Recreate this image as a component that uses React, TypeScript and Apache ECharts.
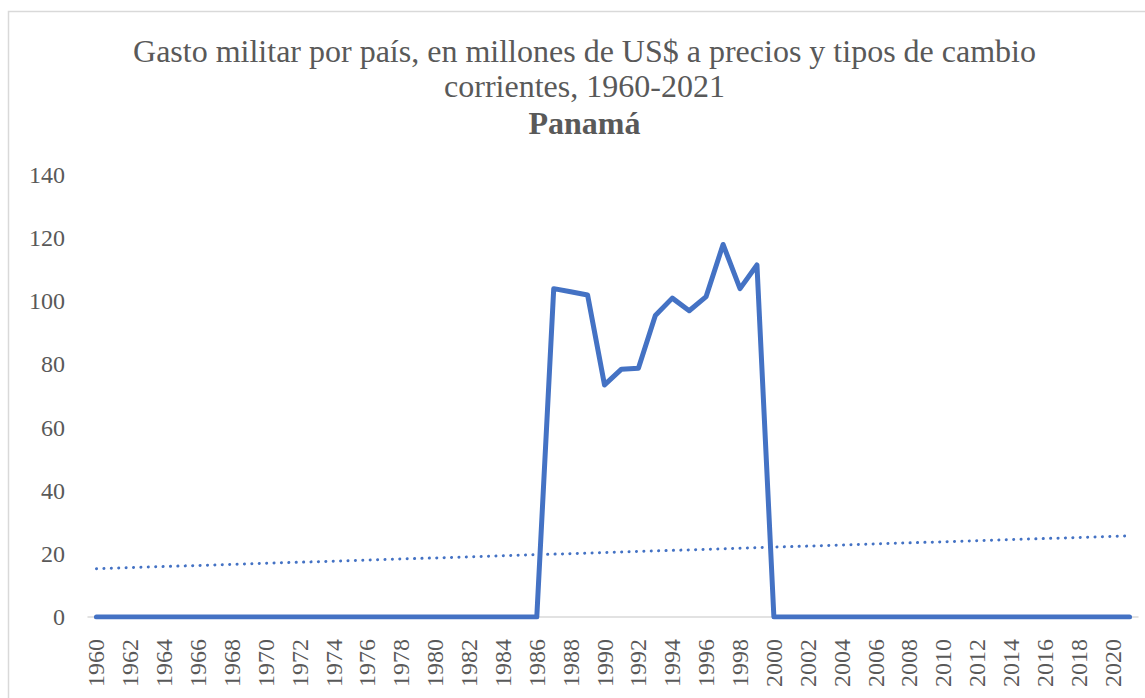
import React, { useEffect, useRef } from "react";
import * as echarts from "echarts";

const years: string[] = [
  "1960","1961","1962","1963","1964","1965","1966","1967","1968","1969",
  "1970","1971","1972","1973","1974","1975","1976","1977","1978","1979",
  "1980","1981","1982","1983","1984","1985","1986","1987","1988","1989",
  "1990","1991","1992","1993","1994","1995","1996","1997","1998","1999",
  "2000","2001","2002","2003","2004","2005","2006","2007","2008","2009",
  "2010","2011","2012","2013","2014","2015","2016","2017","2018","2019",
  "2020","2021",
];

const gasto: number[] = [
  0,0,0,0,0,0,0,0,0,0,
  0,0,0,0,0,0,0,0,0,0,
  0,0,0,0,0,0,0,104,103,102,
  73.5,78.5,78.8,95.5,101,97,101.5,118,104,111.5,
  0,0,0,0,0,0,0,0,0,0,
  0,0,0,0,0,0,0,0,0,0,
  0,0,
];

// Linear trendline end points
const trendStart = 15.3;
const trendEnd = 25.7;

const titleLines = [
  "Gasto militar por país, en millones de US$ a precios y tipos de cambio",
  "corrientes, 1960-2021",
];
const subtitle = "Panamá";

const FONT = "Liberation Serif";
const GRAY = "#595959";
const BLUE = "#4472C4";

export default function App() {
  const ref = useRef<HTMLDivElement>(null);
  useEffect(() => {
    if (!ref.current) return;
    const chart = echarts.init(ref.current, undefined, { renderer: "svg" });
    chart.setOption({
      animation: false,
      backgroundColor: "#ffffff",
      graphic: [
        {
          type: "rect",
          shape: { x: 8.5, y: 11.5, width: 1145, height: 700 },
          style: { fill: "none", stroke: "#d9d9d9", lineWidth: 1.5 },
          silent: true,
        },
        {
          type: "text",
          x: 584.5,
          y: 33,
          style: {
            text: titleLines.join("\n"),
            fontFamily: FONT,
            fontSize: 32,
            fontWeight: "normal",
            fill: GRAY,
            lineHeight: 35.5,
            align: "center",
            verticalAlign: "top",
          },
        },
        {
          type: "text",
          x: 584.5,
          y: 123,
          style: {
            text: subtitle,
            fontFamily: FONT,
            fontSize: 32,
            fontWeight: "bold",
            fill: GRAY,
            align: "center",
            verticalAlign: "middle",
          },
        },
      ],
      grid: { left: 88, right: 7, top: 175, bottom: 81, containLabel: false },
      xAxis: {
        type: "category",
        data: years,
        boundaryGap: true,
        axisLine: { show: true, lineStyle: { color: "#d9d9d9", width: 1.5 } },
        axisTick: { show: false },
        axisLabel: {
          interval: 1,
          rotate: 90,
          margin: 22,
          fontFamily: FONT,
          fontSize: 24,
          color: GRAY,
        },
        splitLine: { show: false },
      },
      yAxis: {
        type: "value",
        min: 0,
        max: 140,
        interval: 20,
        axisLine: { show: false },
        axisTick: { show: false },
        splitLine: { show: false },
        axisLabel: {
          margin: 23,
          fontFamily: FONT,
          fontSize: 24,
          color: GRAY,
        },
      },
      series: [
        {
          type: "line",
          data: gasto,
          symbol: "none",
          lineStyle: { color: BLUE, width: 5, join: "round", cap: "round" },
          z: 3,
        },
        {
          type: "line",
          data: [
            [years[0], trendStart],
            [years[years.length - 1], trendEnd],
          ],
          symbol: "none",
          lineStyle: { color: BLUE, width: 3, type: [0.1, 7.3], cap: "round" },
          z: 2,
        },
      ],
    });
    return () => chart.dispose();
  }, []);
  return (
    <div
      ref={ref}
      style={{ position: "absolute", left: 0, top: 0, width: 1145, height: 698 }}
    />
  );
}
